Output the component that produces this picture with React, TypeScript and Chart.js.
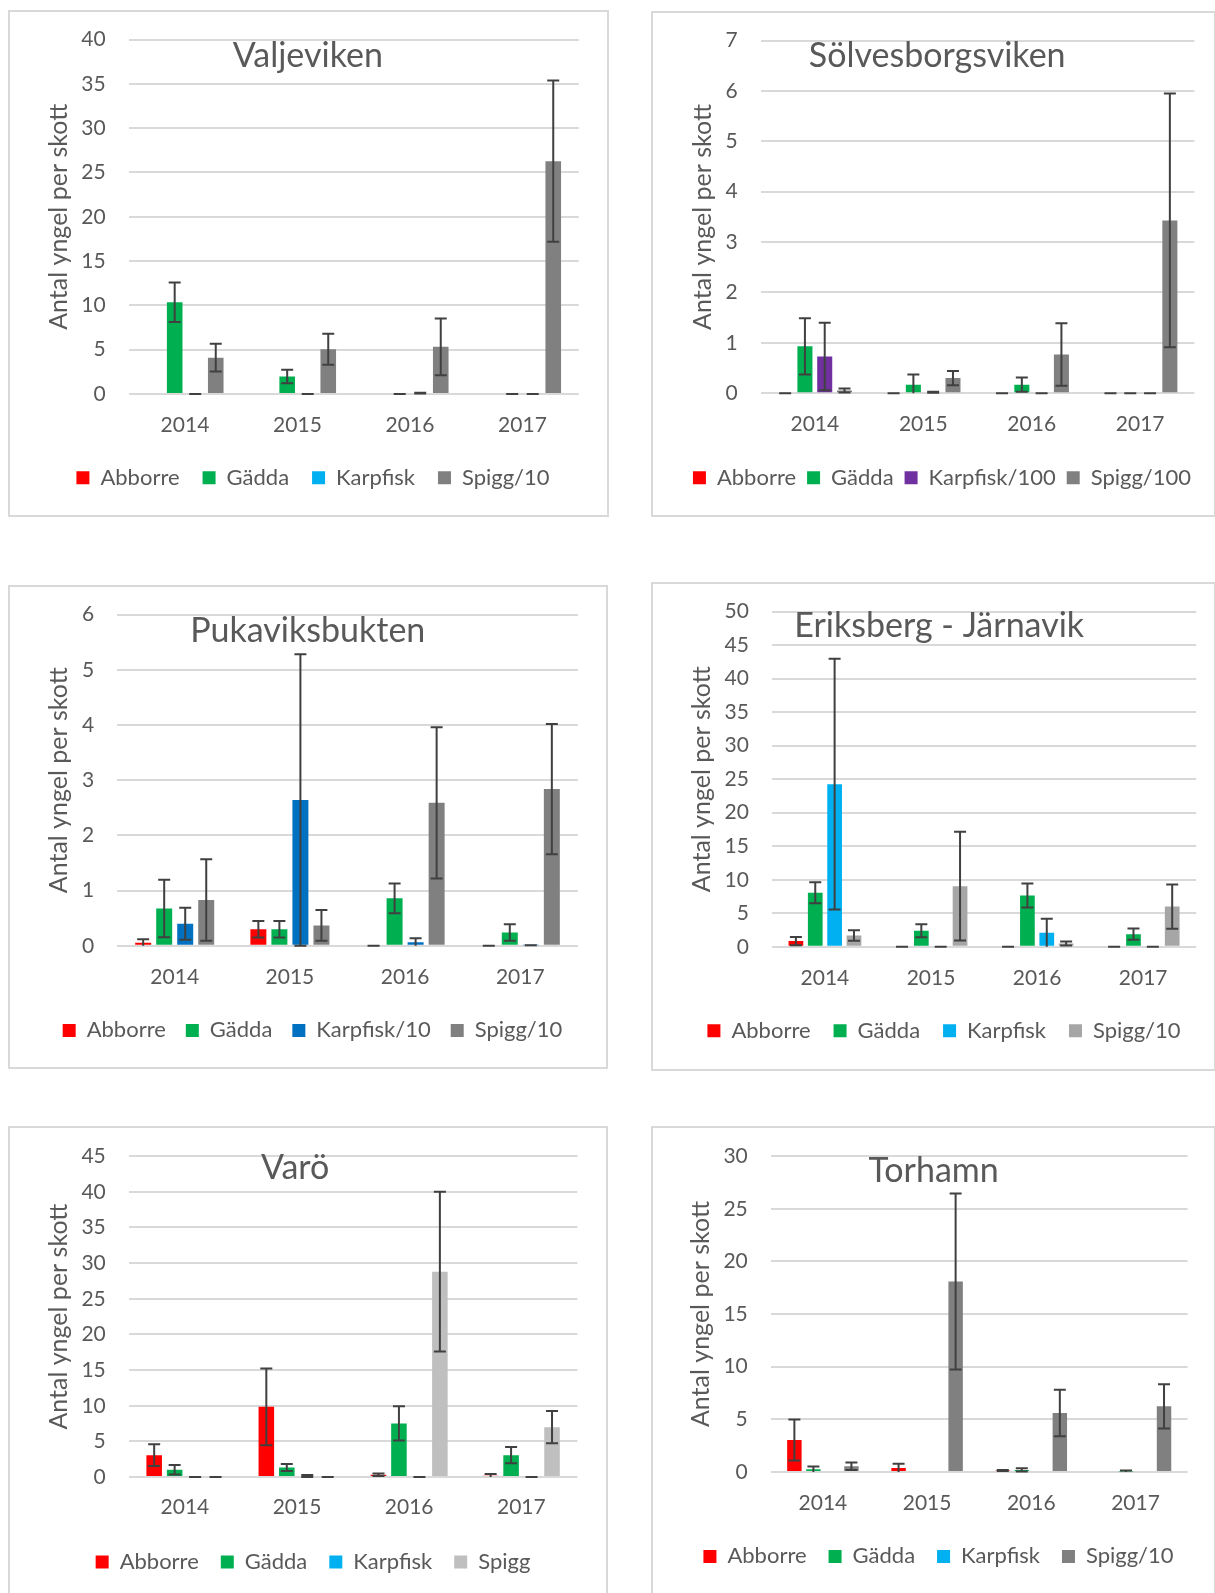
import React, { useEffect, useRef } from "react";
import { Chart, registerables } from "chart.js";

Chart.register(...registerables);

// ---------- DATA ----------
const years = ["2014", "2015", "2016", "2017"];
const yAxisLabel = "Antal yngel per skott";

// Valjeviken
const valjevikenSeries = ["Abborre", "Gädda", "Karpfisk", "Spigg/10"];
const valjevikenMeans = [
  [null, null, null, null],
  [10.35, 1.98, 0, 0],
  [0, 0, 0.1, 0],
  [4.1, 5.06, 5.32, 26.27],
];
const valjevikenErrors = [
  [null, null, null, null],
  [2.23, 0.76, 0, 0],
  [0, 0, 0.05, 0],
  [1.56, 1.75, 3.2, 9.1],
];
const valjevikenTicks = [0, 40, 5];

// Sölvesborgsviken
const solvesborgSeries = ["Abborre", "Gädda", "Karpfisk/100", "Spigg/100"];
const solvesborgMeans = [
  [0, 0, 0, 0],
  [0.93, 0.17, 0.17, 0],
  [0.73, 0.02, 0, 0],
  [0.055, 0.3, 0.77, 3.43],
];
const solvesborgErrors = [
  [0, 0, 0, 0],
  [0.56, 0.2, 0.14, 0],
  [0.67, 0.01, 0, 0],
  [0.04, 0.14, 0.62, 2.52],
];
const solvesborgTicks = [0, 7, 1];

// Pukaviksbukten
const pukavikSeries = ["Abborre", "Gädda", "Karpfisk/10", "Spigg/10"];
const pukavikMeans = [
  [0.055, 0.3, 0, 0],
  [0.675, 0.3, 0.86, 0.24],
  [0.4, 2.64, 0.066, 0.01],
  [0.83, 0.37, 2.59, 2.84],
];
const pukavikErrors = [
  [0.065, 0.15, 0, 0],
  [0.52, 0.15, 0.27, 0.15],
  [0.29, 2.64, 0.07, 0],
  [0.74, 0.28, 1.37, 1.18],
];
const pukavikTicks = [0, 6, 1];

// Eriksberg - Järnavik
const eriksbergSeries = ["Abborre", "Gädda", "Karpfisk", "Spigg/10"];
const eriksbergMeans = [
  [0.85, 0, 0, 0],
  [8.05, 2.39, 7.65, 1.89],
  [24.25, 0, 2.09, 0],
  [1.69, 9.05, 0.5, 6.01],
];
const eriksbergErrors = [
  [0.62, 0, 0, 0],
  [1.57, 0.97, 1.78, 0.85],
  [18.7, 0, 2.1, 0],
  [0.78, 8.1, 0.3, 3.3],
];
const eriksbergTicks = [0, 50, 5];

// Varö
const varoSeries = ["Abborre", "Gädda", "Karpfisk", "Spigg"];
const varoMeans = [
  [3.08, 9.85, 0.33, 0.19],
  [1.03, 1.35, 7.52, 3.08],
  [0, 0.15, 0, 0],
  [0, 0, 28.8, 7.0],
];
const varoErrors = [
  [1.52, 5.37, 0.18, 0.25],
  [0.68, 0.5, 2.4, 1.15],
  [0, 0.15, 0, 0],
  [0, 0, 11.2, 2.27],
];
const varoTicks = [0, 45, 5];

// Torhamn
const torhamnSeries = ["Abborre", "Gädda", "Karpfisk", "Spigg/10"];
const torhamnMeans = [
  [3.04, 0.38, 0.15, null],
  [0.25, null, 0.2, 0.05],
  [null, null, null, null],
  [0.54, 18.09, 5.6, 6.24],
];
const torhamnErrors = [
  [1.95, 0.4, 0.05, null],
  [0.28, null, 0.15, 0.1],
  [null, null, null, null],
  [0.36, 8.35, 2.2, 2.1],
];
const torhamnTicks = [0, 30, 5];

// ---------- STYLE / LAYOUT ----------
const RED = "#FF0000";
const GREEN = "#00B050";
const LIGHTBLUE = "#00B0F0";
const BLUE = "#0070C0";
const PURPLE = "#7030A0";
const GRAY = "#808080";
const MIDGRAY = "#A6A6A6";
const LIGHTGRAY = "#BFBFBF";
const TEXT = "#595959";
const GRID = "#D9D9D9";
const FONT = "Lato, 'Open Sans', sans-serif";
const TICK_FS = 21;
const LEG_FS = 22;
const YTITLE_FS = 25;
const TITLE_FS = 34;
const TOP_EXTRA = 15;

const panels = [
  {
    title: "Valjeviken", series: valjevikenSeries, means: valjevikenMeans, errors: valjevikenErrors, ticks: valjevikenTicks,
    colors: [RED, GREEN, LIGHTBLUE, GRAY],
    box: [8, 10, 601, 507], plot: [128.7, 578.5, 39.6, 394.0],
    yTitleX: 59.2, labelY: 425.5, legendY: 477.8, legendCX: 312.9, legendPad: 23, titleXY: [307.8, 66.6],
  },
  {
    title: "Sölvesborgsviken", series: solvesborgSeries, means: solvesborgMeans, errors: solvesborgErrors, ticks: solvesborgTicks,
    colors: [RED, GREEN, PURPLE, GRAY],
    box: [651, 11, 565, 506], plot: [760.6, 1194, 40.6, 393.2],
    yTitleX: 702.5, labelY: 424.6, legendY: 477.7, legendCX: 941.8, legendPad: 11, titleXY: [937.2, 66.6],
  },
  {
    title: "Pukaviksbukten", series: pukavikSeries, means: pukavikMeans, errors: pukavikErrors, ticks: pukavikTicks,
    colors: [RED, GREEN, BLUE, GRAY],
    box: [8, 585, 600, 484], plot: [117.1, 577.7, 614.6, 945.8],
    yTitleX: 59.0, labelY: 977.1, legendY: 1030.4, legendCX: 312.4, legendPad: 20, titleXY: [307.8, 641.7],
  },
  {
    title: "Eriksberg - Järnavik", series: eriksbergSeries, means: eriksbergMeans, errors: eriksbergErrors, ticks: eriksbergTicks,
    colors: [RED, GREEN, LIGHTBLUE, MIDGRAY],
    box: [651, 582, 565, 489], plot: [771.9, 1195.8, 611.6, 946.8],
    yTitleX: 701.5, labelY: 977.8, legendY: 1030.8, legendCX: 943.8, legendPad: 23, titleXY: [939.2, 636.9],
  },
  {
    title: "Varö", series: varoSeries, means: varoMeans, errors: varoErrors, ticks: varoTicks,
    colors: [RED, GREEN, LIGHTBLUE, LIGHTGRAY],
    box: [8, 1126, 600, 480], plot: [128.8, 577.2, 1156.1, 1477.1],
    yTitleX: 58.9, labelY: 1507.4, legendY: 1562.0, legendCX: 312.9, legendPad: 22, titleXY: [295.1, 1179.4],
  },
  {
    title: "Torhamn", series: torhamnSeries, means: torhamnMeans, errors: torhamnErrors, ticks: torhamnTicks,
    colors: [RED, GREEN, LIGHTBLUE, GRAY],
    box: [651, 1126, 565, 480], plot: [770.8, 1188, 1156.1, 1472],
    yTitleX: 701.4, labelY: 1503.7, legendY: 1556.4, legendCX: 938.7, legendPad: 22, titleXY: [933.6, 1182.1],
  },
];

// ---------- PLUGINS ----------
const errorBarPlugin = {
  id: "errorBars",
  afterDatasetsDraw(chart: any) {
    const ctx = chart.ctx;
    const yScale = chart.scales.y;
    ctx.save();
    ctx.strokeStyle = "#404040";
    ctx.lineWidth = 2;
    const half = 6;
    chart.data.datasets.forEach((ds: any, i: number) => {
      const meta = chart.getDatasetMeta(i);
      if (meta.hidden) return;
      ds.data.forEach((v: any, j: number) => {
        const e = ds.errors[j];
        if (v == null || e == null) return;
        const bar = meta.data[j];
        if (!bar) return;
        const x = bar.x;
        const yTop = yScale.getPixelForValue(v + e);
        const lowVal = v - e;
        const yBot = yScale.getPixelForValue(Math.max(lowVal, 0));
        ctx.beginPath();
        ctx.moveTo(x, yTop);
        ctx.lineTo(x, yBot);
        ctx.moveTo(x - half, yTop);
        ctx.lineTo(x + half, yTop);
        if (lowVal >= 0) {
          ctx.moveTo(x - half, yBot);
          ctx.lineTo(x + half, yBot);
        }
        ctx.stroke();
      });
    });
    ctx.restore();
  },
};

const panelTitlePlugin = {
  id: "panelTitle",
  afterDraw(chart: any, _args: any, opts: any) {
    const ctx = chart.ctx;
    ctx.save();
    ctx.font = `${TITLE_FS}px ${FONT}`;
    ctx.fillStyle = TEXT;
    ctx.textAlign = "center";
    ctx.textBaseline = "alphabetic";
    ctx.fillText(opts.text, opts.x, opts.y);
    ctx.restore();
  },
};

function buildGeometry(p: any) {
  const [L, T] = p.box;
  const X0 = L;
  const Y0 = T - TOP_EXTRA;
  const CW = 2 * (p.legendCX - X0);
  const plotL = p.plot[0] - X0;
  const plotR = p.plot[1] - X0;
  const plotT = p.plot[2] - Y0;
  const plotB = p.plot[3] - Y0;
  const legendTop = p.legendY - Y0 - p.legendPad - LEG_FS / 2;
  const xH = legendTop - plotB;
  const legendH = LEG_FS + p.legendPad + 10;
  const CH = Math.ceil(legendTop + legendH + 4);
  const padBottom = CH - legendTop - legendH;
  return { X0, Y0, CW, CH, plotL, plotR, plotT, plotB, xH, padBottom, rightW: CW - plotR };
}

function buildConfig(p: any): any {
  const g = buildGeometry(p);
  const datasets = p.series.map((name: string, i: number) => ({
    label: name,
    data: p.means[i],
    errors: p.errors[i],
    backgroundColor: p.colors[i],
    borderWidth: 0,
    categoryPercentage: 0.73,
    barPercentage: 0.76,
    xAxisID: "x",
    yAxisID: "y",
  }));
  return {
    type: "bar",
    data: { labels: years, datasets },
    plugins: [errorBarPlugin, panelTitlePlugin],
    options: {
      responsive: false,
      animation: false,
      devicePixelRatio: 1,
      layout: {
        padding: { left: 0, top: g.plotT, right: 0, bottom: g.padBottom },
      },
      scales: {
        x: {
          grid: { display: false, drawTicks: false },
          border: { display: false },
          ticks: {
            color: TEXT,
            font: { family: FONT, size: TICK_FS },
            padding: p.labelY - g.Y0 - g.plotB - (TICK_FS * 1.2) / 2,
            maxRotation: 0,
          },
          afterFit: (s: any) => {
            s.height = g.xH;
          },
        },
        y: {
          min: p.ticks[0],
          max: p.ticks[1],
          grid: { color: GRID, lineWidth: 2, drawTicks: false },
          border: { display: false },
          ticks: {
            stepSize: p.ticks[2],
            color: TEXT,
            font: { family: FONT, size: TICK_FS },
            padding: 23,
            autoSkip: false,
          },
          title: {
            display: true,
            text: yAxisLabel,
            color: TEXT,
            font: { family: FONT, size: YTITLE_FS },
            padding: { top: p.yTitleX - g.X0 - (YTITLE_FS * 1.2) / 2, bottom: 0 },
          },
          afterFit: (s: any) => {
            s.width = g.plotL;
          },
        },
        y2: {
          type: "linear",
          position: "right",
          display: true,
          grid: { display: false, drawTicks: false },
          border: { display: false },
          ticks: { display: false },
          title: { display: false },
          afterFit: (s: any) => {
            s.width = g.rightW;
          },
        },
      },
      plugins: {
        legend: {
          position: "bottom",
          align: "center",
          labels: {
            boxWidth: 13,
            boxHeight: 13,
            padding: p.legendPad,
            color: TEXT,
            font: { family: FONT, size: LEG_FS },
          },
        },
        title: { display: false },
        tooltip: { enabled: false },
        panelTitle: {
          text: p.title,
          x: p.titleXY[0] - g.X0,
          y: p.titleXY[1] - g.Y0,
        },
      },
    },
  };
}

function ChartPanel({ p }: { p: any }) {
  const ref = useRef<HTMLCanvasElement>(null);
  const g = buildGeometry(p);
  const cw = Math.round(g.CW);
  useEffect(() => {
    const chart = new Chart(ref.current as HTMLCanvasElement, buildConfig(p));
    return () => chart.destroy();
  }, []);
  return (
    <>
      <div
        style={{
          position: "absolute",
          left: p.box[0],
          top: p.box[1],
          width: p.box[2],
          height: p.box[3],
          border: `2px solid ${GRID}`,
          boxSizing: "border-box",
        }}
      />
      <canvas
        ref={ref}
        width={cw}
        height={g.CH}
        style={{ position: "absolute", left: g.X0, top: g.Y0, width: cw, height: g.CH }}
      />
    </>
  );
}

export default function App() {
  return (
    <div
      style={{
        position: "absolute",
        left: 0,
        top: 0,
        width: 1215,
        height: 1593,
        overflow: "hidden",
        background: "#ffffff",
      }}
    >
      {panels.map((p) => (
        <ChartPanel key={p.title} p={p} />
      ))}
    </div>
  );
}
